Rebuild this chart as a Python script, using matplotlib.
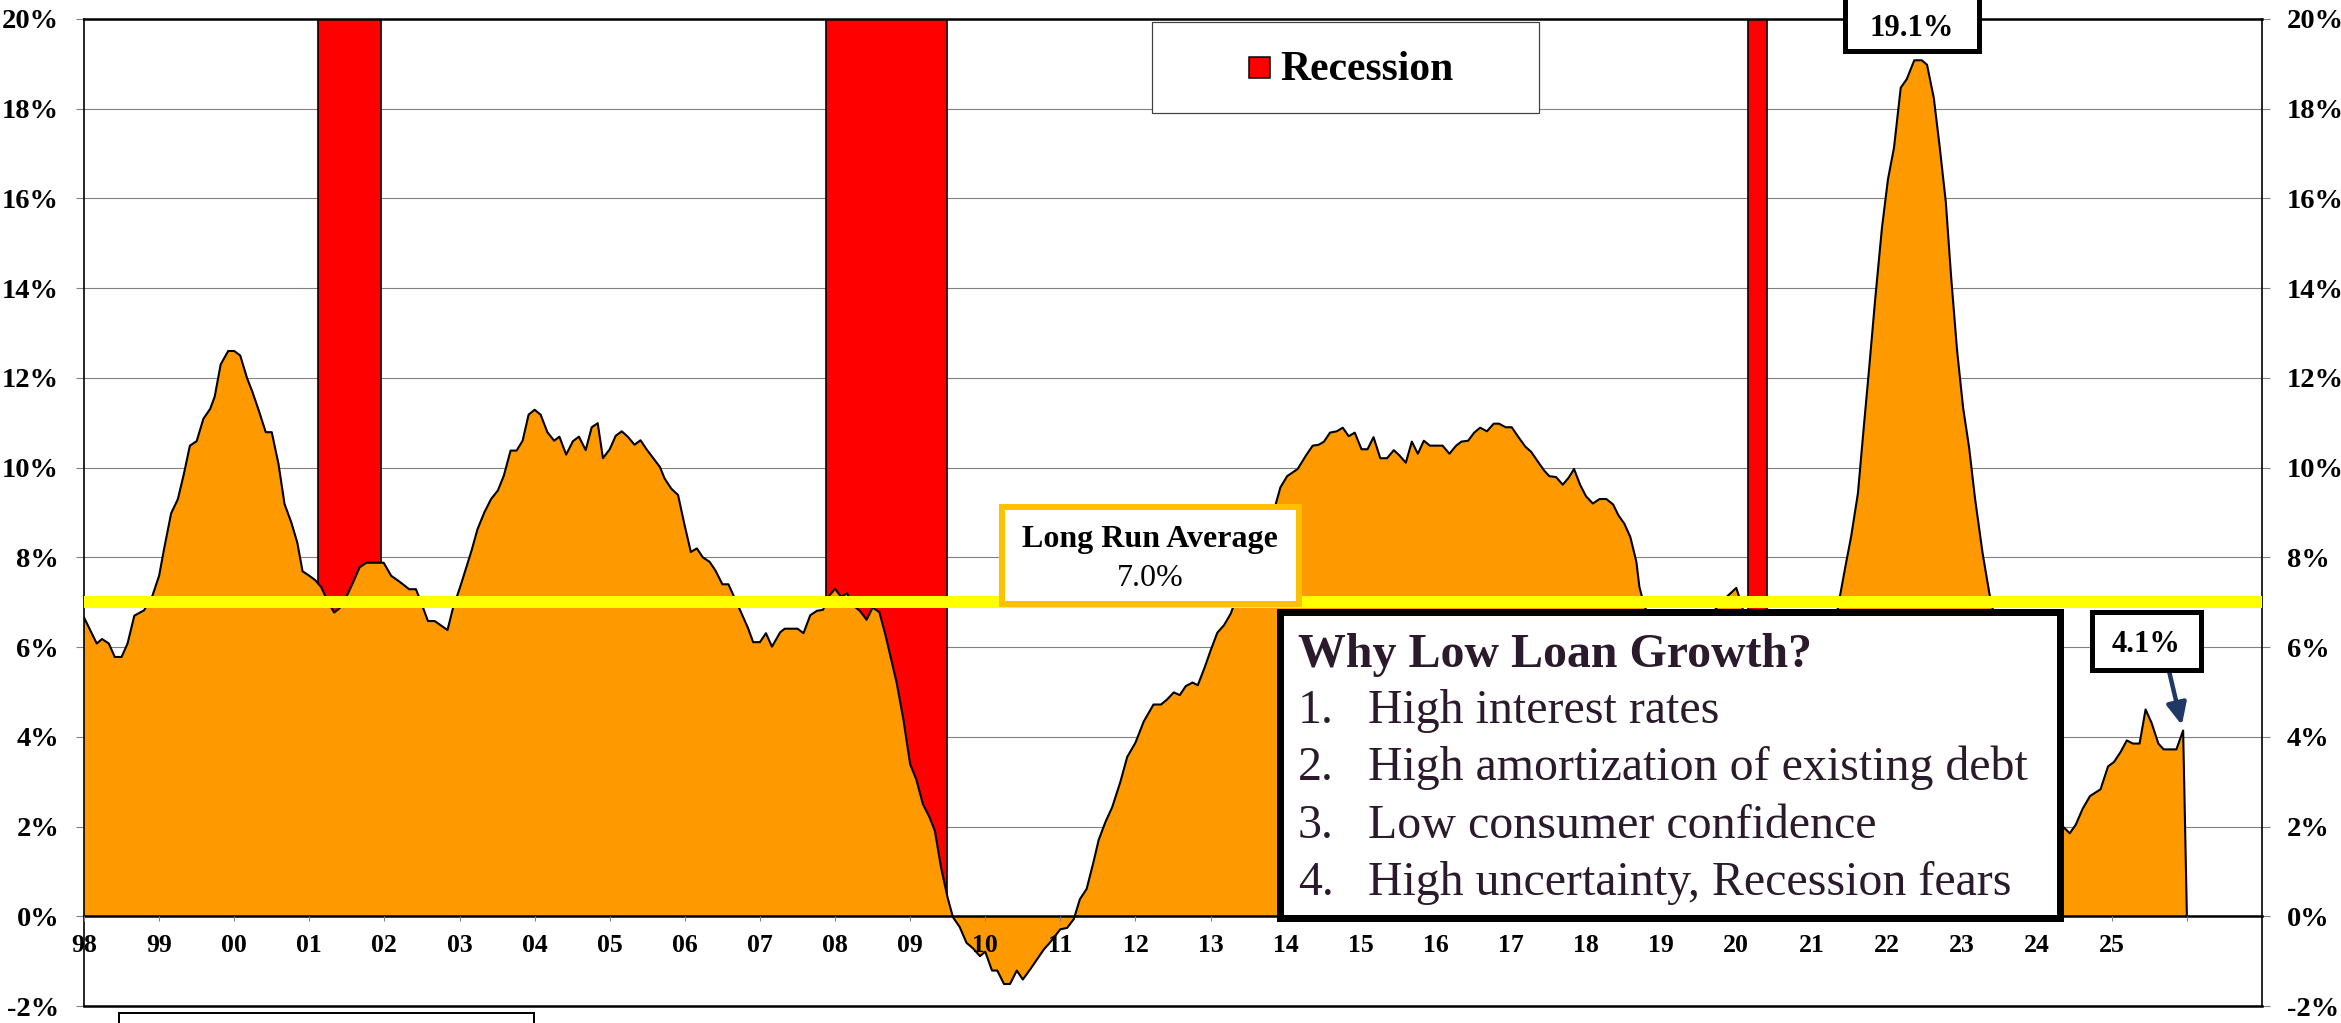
import matplotlib
matplotlib.use('Agg')
import matplotlib.pyplot as plt
from matplotlib.patches import Rectangle

plt.rcParams['font.family'] = ['Liberation Serif', 'DejaVu Serif']

# loan growth, year over year (%) (decimal years)
years = [
    1998.00, 1998.17, 1998.24, 1998.33, 1998.41, 1998.50, 1998.58, 1998.67, 1998.80, 1998.91,
    1999.00, 1999.07, 1999.16, 1999.25, 1999.33, 1999.41, 1999.50, 1999.59, 1999.68, 1999.74,
    1999.82, 1999.92, 2000.00, 2000.08, 2000.17, 2000.24, 2000.33, 2000.42, 2000.50, 2000.59,
    2000.67, 2000.76, 2000.84, 2000.91, 2001.00, 2001.08, 2001.16, 2001.24, 2001.33, 2001.40,
    2001.49, 2001.58, 2001.67, 2001.76, 2001.99, 2002.09, 2002.20, 2002.33, 2002.42, 2002.49,
    2002.58, 2002.67, 2002.84, 2002.91, 2003.02, 2003.16, 2003.24, 2003.33, 2003.42, 2003.51,
    2003.59, 2003.68, 2003.76, 2003.84, 2003.92, 2004.00, 2004.08, 2004.17, 2004.26, 2004.33,
    2004.42, 2004.51, 2004.59, 2004.68, 2004.76, 2004.84, 2004.91, 2005.00, 2005.08, 2005.16,
    2005.24, 2005.33, 2005.41, 2005.49, 2005.58, 2005.67, 2005.73, 2005.82, 2005.91, 2005.99,
    2006.08, 2006.16, 2006.24, 2006.33, 2006.41, 2006.50, 2006.58, 2006.67, 2006.76, 2006.84,
    2006.91, 2007.00, 2007.08, 2007.16, 2007.27, 2007.33, 2007.50, 2007.58, 2007.67, 2007.76,
    2007.84, 2007.92, 2008.00, 2008.08, 2008.16, 2008.24, 2008.33, 2008.42, 2008.50, 2008.59,
    2008.67, 2008.74, 2008.82, 2008.91, 2009.00, 2009.08, 2009.17, 2009.26, 2009.33, 2009.41,
    2009.50, 2009.57, 2009.66, 2009.75, 2009.84, 2009.93, 2010.00, 2010.09, 2010.16, 2010.25,
    2010.33, 2010.42, 2010.50, 2010.60, 2010.69, 2010.78, 2010.86, 2010.93, 2011.00, 2011.09,
    2011.18, 2011.26, 2011.35, 2011.44, 2011.51, 2011.60, 2011.69, 2011.80, 2011.89, 2012.00,
    2012.11, 2012.24, 2012.34, 2012.42, 2012.51, 2012.59, 2012.67, 2012.76, 2012.83, 2012.92,
    2013.00, 2013.09, 2013.18, 2013.27, 2013.33, 2013.50, 2013.67, 2013.87, 2013.93, 2014.02,
    2014.16, 2014.27, 2014.36, 2014.44, 2014.51, 2014.59, 2014.68, 2014.76, 2014.84, 2014.92,
    2015.01, 2015.09, 2015.17, 2015.26, 2015.35, 2015.44, 2015.51, 2015.60, 2015.68, 2015.76,
    2015.84, 2015.92, 2016.09, 2016.18, 2016.27, 2016.34, 2016.43, 2016.51, 2016.59, 2016.68,
    2016.77, 2016.84, 2016.93, 2017.01, 2017.10, 2017.19, 2017.27, 2017.36, 2017.44, 2017.51,
    2017.60, 2017.69, 2017.77, 2017.84, 2017.92, 2018.00, 2018.09, 2018.18, 2018.27, 2018.36,
    2018.43, 2018.51, 2018.59, 2018.67, 2018.71, 2018.78, 2018.90, 2019.10, 2019.30, 2019.50,
    2019.70, 2019.86, 2020.00, 2020.08, 2020.20, 2020.40, 2020.60, 2020.80, 2021.00, 2021.20,
    2021.38, 2021.45, 2021.53, 2021.62, 2021.69, 2021.77, 2021.85, 2021.94, 2022.02, 2022.10,
    2022.19, 2022.27, 2022.37, 2022.47, 2022.54, 2022.63, 2022.71, 2022.79, 2022.86, 2022.94,
    2023.02, 2023.10, 2023.18, 2023.28, 2023.37, 2023.55, 2023.75, 2023.95, 2024.15, 2024.35,
    2024.44, 2024.52, 2024.61, 2024.71, 2024.85, 2024.95, 2025.03, 2025.12, 2025.20, 2025.28,
    2025.37, 2025.45, 2025.53, 2025.62, 2025.69, 2025.86, 2025.95, 2026.00,
]
growth = [
    6.66, 6.08, 6.18, 6.08, 5.78, 5.78, 6.08, 6.70, 6.82, 7.14,
    7.59, 8.22, 8.98, 9.30, 9.86, 10.49, 10.59, 11.09, 11.31, 11.58,
    12.30, 12.60, 12.60, 12.50, 12.00, 11.70, 11.26, 10.79, 10.79, 10.08,
    9.19, 8.78, 8.33, 7.69, 7.59, 7.49, 7.33, 7.04, 6.77, 6.86,
    7.11, 7.43, 7.78, 7.88, 7.88, 7.59, 7.46, 7.29, 7.29, 6.99,
    6.58, 6.58, 6.38, 6.85, 7.40, 8.15, 8.63, 9.00, 9.30, 9.49,
    9.82, 10.38, 10.38, 10.60, 11.18, 11.29, 11.18, 10.79, 10.60, 10.69,
    10.29, 10.59, 10.69, 10.39, 10.90, 10.99, 10.21, 10.41, 10.71, 10.81,
    10.69, 10.51, 10.61, 10.41, 10.21, 10.01, 9.76, 9.53, 9.39, 8.77,
    8.12, 8.20, 8.00, 7.90, 7.70, 7.40, 7.40, 7.07, 6.73, 6.43,
    6.11, 6.11, 6.31, 6.01, 6.33, 6.41, 6.41, 6.31, 6.71, 6.81,
    6.83, 7.14, 7.30, 7.12, 7.20, 6.93, 6.81, 6.61, 6.88, 6.78,
    6.28, 5.78, 5.21, 4.39, 3.39, 3.06, 2.50, 2.20, 1.90, 1.10,
    0.41, -0.02, -0.24, -0.59, -0.72, -0.89, -0.79, -1.21, -1.21, -1.51,
    -1.51, -1.21, -1.41, -1.18, -0.96, -0.74, -0.59, -0.44, -0.29, -0.26,
    -0.06, 0.38, 0.61, 1.20, 1.70, 2.10, 2.43, 3.00, 3.55, 3.87,
    4.34, 4.72, 4.72, 4.83, 4.99, 4.93, 5.13, 5.21, 5.15, 5.54,
    5.92, 6.32, 6.49, 6.75, 7.03, 7.70, 8.40, 9.20, 9.56, 9.81,
    9.97, 10.27, 10.49, 10.51, 10.58, 10.78, 10.81, 10.89, 10.70, 10.78,
    10.41, 10.41, 10.68, 10.21, 10.21, 10.39, 10.28, 10.11, 10.58, 10.31,
    10.60, 10.49, 10.49, 10.31, 10.49, 10.58, 10.60, 10.78, 10.89, 10.81,
    10.98, 10.98, 10.90, 10.90, 10.68, 10.47, 10.35, 10.13, 9.94, 9.81,
    9.79, 9.62, 9.78, 9.97, 9.62, 9.36, 9.20, 9.30, 9.30, 9.18,
    8.94, 8.75, 8.45, 7.90, 7.34, 6.90, 6.50, 6.30, 6.40, 6.60,
    6.80, 7.10, 7.32, 6.90, 5.80, 4.20, 3.00, 2.60, 3.40, 5.40,
    7.13, 7.77, 8.47, 9.43, 10.76, 12.23, 13.76, 15.35, 16.43, 17.13,
    18.47, 18.66, 19.08, 19.08, 18.98, 18.24, 17.13, 15.92, 14.27, 12.61,
    11.34, 10.45, 9.30, 8.09, 7.20, 5.80, 4.40, 3.30, 2.50, 2.00,
    1.85, 2.04, 2.39, 2.68, 2.83, 3.34, 3.44, 3.67, 3.92, 3.85,
    3.85, 4.61, 4.31, 3.85, 3.72, 3.72, 4.14, 0.00,
]

rec_start = [2001.12, 2007.88, 2020.16]
rec_end = [2001.96, 2009.49, 2020.41]
long_run_avg = 7.0
peak_value = 19.1
latest_value = 4.1

y_ticks = list(range(-2, 21, 2))
y_labels = [f"{v}%" for v in y_ticks]
x_ticks = list(range(1998, 2027))
x_labels = [f"{y % 100:02d}" for y in range(1998, 2026)] + [""]

box_title = "Why Low Loan Growth?"
reasons = ["High interest rates",
           "High amortization of existing debt",
           "Low consumer confidence",
           "High uncertainty, Recession fears"]

W, H, DPI = 2341, 1023, 100


def fx(px):
    return px / W


def fy(py):
    return 1 - py / H


def pt(px):
    return px * 72 / DPI


def fig_box(x0, y0, x1, y1, lw_px, edge, face="white", z=10):
    r = Rectangle((fx(x0), fy(y1)), fx(x1) - fx(x0), fy(y0) - fy(y1),
                  transform=fig.transFigure, facecolor=face, edgecolor=edge,
                  lw=pt(lw_px), zorder=z, joinstyle="miter")
    fig.add_artist(r)


fig = plt.figure(figsize=(W / DPI, H / DPI), dpi=DPI)
ax = fig.add_axes([fx(84), fy(1006), fx(2262) - fx(84), fy(19) - fy(1006)])
ax.set_xlim(1998, 2027)
ax.set_ylim(-2, 20)

# grid + axes styling
ax.set_axisbelow(True)
ax.set_yticks(y_ticks)
ax.set_yticklabels(y_labels, fontsize=20.5, fontweight="bold")
ax.yaxis.grid(True, color="#808080", lw=0.8)
ax.tick_params(axis="y", direction="out", length=pt(8), color="#808080",
               pad=pt(17), left=True, right=True, labelleft=True, labelright=True)
ax.spines["bottom"].set_position(("data", 0))
ax.set_xticks(x_ticks)
ax.set_xticklabels(x_labels, fontsize=18.5, fontweight="bold")
ax.tick_params(axis="x", direction="out", length=pt(5), color="#808080", pad=pt(13))
ax.xaxis.set_zorder(4)  # year labels sit on top of the negative area
for s in ["left", "right"]:
    ax.spines[s].set_linewidth(1.2)
for s in ["top", "bottom"]:
    ax.spines[s].set_linewidth(1.8)
ax.axhline(-2, color="black", lw=1.8, clip_on=False, zorder=5)

# recession bars
for a, b in zip(rec_start, rec_end):
    ax.bar(a, 20, width=b - a, bottom=0, align="edge", color="#FF0000",
           edgecolor="black", lw=1.2, zorder=1.5)

# loan growth area
ax.fill_between(years, 0, growth, facecolor="#FF9900", edgecolor="none", zorder=2)
ax.plot(years, growth, color="black", lw=1.5, zorder=2.2)

# long run average
ax.axhline(long_run_avg, color="#FFFF00", lw=pt(12), zorder=3)

# legend box
fig_box(1152, 22, 1539, 113, 1.2, "#404040", z=10)
fig_box(1249, 57, 1270, 78, 1.5, "black", face="#FF0000", z=11)
fig.text(fx(1280), fy(80), "Recession", fontsize=30, fontweight="bold",
         va="baseline", ha="left", zorder=12)

# long run average box
fig_box(1002, 507, 1299, 604, 6, "#FFC000", z=10)
fig.text(fx(1150), fy(547), "Long Run Average", fontsize=23, fontweight="bold",
         ha="center", va="baseline", zorder=12)
fig.text(fx(1150), fy(586), f"{long_run_avg:.1f}%", fontsize=23,
         ha="center", va="baseline", zorder=12)

# peak label
fig_box(1845, -3, 1979, 51, 5, "black", z=10)
fig.text(fx(1912), fy(36), f"{peak_value}%", fontsize=22, fontweight="bold",
         ha="center", va="baseline", zorder=12)

# latest label + arrow
fig_box(2092, 612, 2201, 670, 5, "black", z=10)
fig.text(fx(2146), fy(652), f"{latest_value}%", fontsize=22, fontweight="bold",
         ha="center", va="baseline", zorder=12)
ax.annotate("", xy=(years[-2], growth[-2]), xycoords="data",
            xytext=(fx(2169), fy(671)), textcoords="figure fraction",
            arrowprops=dict(arrowstyle="-|>,head_length=1.3,head_width=0.6",
                            color="#1F3864", lw=3.2, shrinkA=0, shrinkB=4),
            zorder=9, annotation_clip=False)

# why low loan growth box
txt_col = "#2B1A2B"
fig_box(1280, 612, 2060, 918, 7, "black", z=10)
fig.text(fx(1298), fy(667), box_title, fontsize=34.5, fontweight="bold",
         color=txt_col, ha="left", va="baseline", zorder=12)
for i, r in enumerate(reasons):
    yb = 723 + i * 57.3
    fig.text(fx(1298), fy(yb), f"{i + 1}.", fontsize=34.5, color=txt_col,
             ha="left", va="baseline", zorder=12)
    fig.text(fx(1368), fy(yb), r, fontsize=34.5, color=txt_col,
             ha="left", va="baseline", zorder=12)

# source box at the bottom (cut off)
fig_box(119, 1013, 534, 1060, 2, "black", z=10)

fig.savefig("out.png", dpi=DPI)
